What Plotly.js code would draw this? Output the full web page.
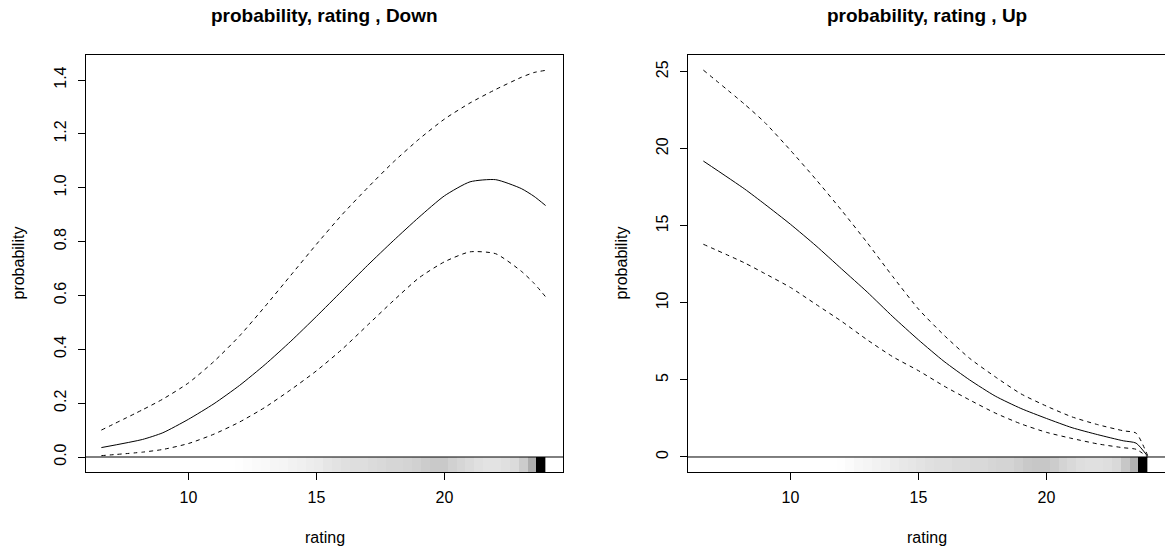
<!DOCTYPE html>
<html>
<head>
<meta charset="utf-8">
<script src="https://cdn.plot.ly/plotly-3.0.1.min.js"></script>
<style>html,body{margin:0;padding:0;background:#fff;}#chart{width:1165px;height:556px;}</style>
</head>
<body>
<div id="chart"></div>
<script>
// ---- data ----
const rating = [6.6, 8.2, 9, 10, 11, 12, 13, 14, 15, 16, 17, 18, 19, 20, 21, 22, 23, 23.5, 23.95];

const downFit   = [0.035, 0.065, 0.09, 0.14, 0.198, 0.266, 0.344, 0.43, 0.522, 0.617, 0.712, 0.803, 0.89, 0.97, 1.022, 1.03, 0.997, 0.968, 0.934];
const downUpper = [0.10, 0.175, 0.215, 0.275, 0.355, 0.45, 0.56, 0.675, 0.79, 0.9, 1.0, 1.095, 1.18, 1.255, 1.315, 1.365, 1.41, 1.428, 1.436];
const downLower = [0.005, 0.018, 0.028, 0.05, 0.085, 0.13, 0.185, 0.25, 0.32, 0.4, 0.49, 0.58, 0.665, 0.725, 0.762, 0.755, 0.69, 0.645, 0.595];

const upFit   = [19.2, 17.4, 16.4, 15.1, 13.7, 12.2, 10.7, 9.1, 7.6, 6.2, 5.0, 3.95, 3.15, 2.5, 1.9, 1.45, 1.05, 0.9, 0.05];
const upUpper = [25.1, 22.9, 21.7, 19.9, 18.0, 16.0, 13.9, 11.7, 9.6, 7.9, 6.4, 5.2, 4.1, 3.3, 2.6, 2.1, 1.7, 1.55, 0.1];
const upLower = [13.8, 12.6, 11.9, 11.0, 9.9, 8.8, 7.6, 6.5, 5.6, 4.6, 3.7, 2.85, 2.15, 1.6, 1.2, 0.85, 0.6, 0.5, 0.0];

// rug density strip: bin edges (rating) and shading (0 = white, 1 = black)
const stripStart = 6.6, stripWidth = 0.347, stripBins = 50;
const downDensity = [0,0,0,0,0,0,0,0,0,0,0,0,0,0,0,
  0.005,0.01,0.02,0.025,0.035,0.04,0.05,0.06,0.07,0.08,
  0.10,0.11,0.12,0.13,0.13,0.14,0.15,0.16,0.16,0.17,
  0.18,0.20,0.21,0.21,0.18,0.16,0.14,0.12,0.11,0.11,
  0.12,0.14,0.20,0.32,1.0];
const upDensity = [0,0,0,0,0,0,0,0,0,0,0,0,0,0,0,
  0.005,0.015,0.03,0.04,0.05,0.06,0.08,0.09,0.10,0.11,
  0.12,0.13,0.13,0.14,0.14,0.15,0.15,0.16,0.17,0.17,
  0.19,0.21,0.22,0.22,0.20,0.17,0.15,0.13,0.12,0.12,
  0.13,0.15,0.22,0.30,1.0];

const xTicks = [10, 15, 20];
const downTicks = [0, 0.2, 0.4, 0.6, 0.8, 1.0, 1.2, 1.4];
const downTickText = ['0.0','0.2','0.4','0.6','0.8','1.0','1.2','1.4'];
const upTicks = [0, 5, 10, 15, 20, 25];

const xRange = [6.0, 24.63];
const downRange = [-0.0557, 1.493];
const upRange = [-0.974, 26.08];

// ---- build ----
const stripEdges = [];
for (let i = 0; i <= stripBins; i++) stripEdges.push(+(stripStart + i * stripWidth).toFixed(4));

const FONT = 'Liberation Sans, Arial, Helvetica, sans-serif';
const solid = {color: '#000', width: 1, shape: 'spline', smoothing: 0.6};
const dashed = {color: '#000', width: 1, dash: '4px,4px', shape: 'spline', smoothing: 0.6};
const gray = [[0, '#ffffff'], [1, '#000000']];

const traces = [
  {type: 'heatmap', x: stripEdges, y: [downRange[0], 0], z: [downDensity], colorscale: gray, zmin: 0, zmax: 1,
   showscale: false, hoverinfo: 'skip', xaxis: 'x', yaxis: 'y'},
  {type: 'heatmap', x: stripEdges, y: [upRange[0], 0], z: [upDensity], colorscale: gray, zmin: 0, zmax: 1,
   showscale: false, hoverinfo: 'skip', xaxis: 'x2', yaxis: 'y2'},
  {type: 'scatter', mode: 'lines', x: rating, y: downFit, line: solid, xaxis: 'x', yaxis: 'y'},
  {type: 'scatter', mode: 'lines', x: rating, y: downUpper, line: dashed, xaxis: 'x', yaxis: 'y'},
  {type: 'scatter', mode: 'lines', x: rating, y: downLower, line: dashed, xaxis: 'x', yaxis: 'y'},
  {type: 'scatter', mode: 'lines', x: rating, y: upFit, line: solid, xaxis: 'x2', yaxis: 'y2'},
  {type: 'scatter', mode: 'lines', x: rating, y: upUpper, line: dashed, xaxis: 'x2', yaxis: 'y2'},
  {type: 'scatter', mode: 'lines', x: rating, y: upLower, line: dashed, xaxis: 'x2', yaxis: 'y2'}
];

const W = 1165, H = 556;
const yDom = [(H - 472) / H, (H - 55) / H];
const axBase = {
  showgrid: false, zeroline: false, showline: true, mirror: true, linecolor: '#000', linewidth: 1,
  ticks: 'outside', ticklen: 7, tickwidth: 1, tickcolor: '#000',
  tickfont: {family: FONT, size: 16, color: '#000'}, fixedrange: true
};
const xAx = Object.assign({}, axBase, {ticklabelstandoff: 4});
const yAx = Object.assign({}, axBase, {ticklabelstandoff: 6, tickangle: -90});

const layout = {
  width: W, height: H,
  margin: {l: 0, r: 0, t: 0, b: 0},
  paper_bgcolor: '#fff', plot_bgcolor: '#fff',
  showlegend: false,
  font: {family: FONT, color: '#000'},
  xaxis: Object.assign({}, xAx, {domain: [86 / W, 563 / W], range: xRange, tickvals: xTicks, anchor: 'y'}),
  yaxis: Object.assign({}, yAx, {domain: yDom, range: downRange, tickvals: downTicks, ticktext: downTickText, anchor: 'x'}),
  xaxis2: Object.assign({}, xAx, {domain: [688 / W, 1], range: xRange, tickvals: xTicks, anchor: 'y2'}),
  yaxis2: Object.assign({}, yAx, {domain: yDom, range: upRange, tickvals: upTicks, anchor: 'x2'}),
  shapes: [
    {type: 'line', xref: 'x domain', yref: 'y', x0: 0, x1: 1, y0: 0, y1: 0, line: {color: '#000', width: 1}, layer: 'above'},
    {type: 'line', xref: 'x2 domain', yref: 'y2', x0: 0, x1: 1, y0: 0, y1: 0, line: {color: '#000', width: 1}, layer: 'above'}
  ],
  annotations: [
    {text: '<b>probability, rating , Down</b>', xref: 'paper', yref: 'paper', x: 324.5 / W, y: 1 - 15 / H,
     xanchor: 'center', yanchor: 'middle', showarrow: false, font: {family: FONT, size: 19, color: '#000'}},
    {text: '<b>probability, rating , Up</b>', xref: 'paper', yref: 'paper', x: 926.5 / W, y: 1 - 15 / H,
     xanchor: 'center', yanchor: 'middle', showarrow: false, font: {family: FONT, size: 19, color: '#000'}},
    {text: 'rating', xref: 'paper', yref: 'paper', x: 324.5 / W, y: 1 - 537 / H,
     xanchor: 'center', yanchor: 'middle', showarrow: false, font: {family: FONT, size: 16, color: '#000'}},
    {text: 'rating', xref: 'paper', yref: 'paper', x: 926.5 / W, y: 1 - 537 / H,
     xanchor: 'center', yanchor: 'middle', showarrow: false, font: {family: FONT, size: 16, color: '#000'}},
    {text: 'probability', xref: 'paper', yref: 'paper', x: 18 / W, y: 1 - 263.5 / H, textangle: -90,
     xanchor: 'center', yanchor: 'middle', showarrow: false, font: {family: FONT, size: 16, color: '#000'}},
    {text: 'probability', xref: 'paper', yref: 'paper', x: 621 / W, y: 1 - 263.5 / H, textangle: -90,
     xanchor: 'center', yanchor: 'middle', showarrow: false, font: {family: FONT, size: 16, color: '#000'}}
  ]
};

Plotly.newPlot('chart', traces, layout, {staticPlot: true, displayModeBar: false});
</script>
</body>
</html>
